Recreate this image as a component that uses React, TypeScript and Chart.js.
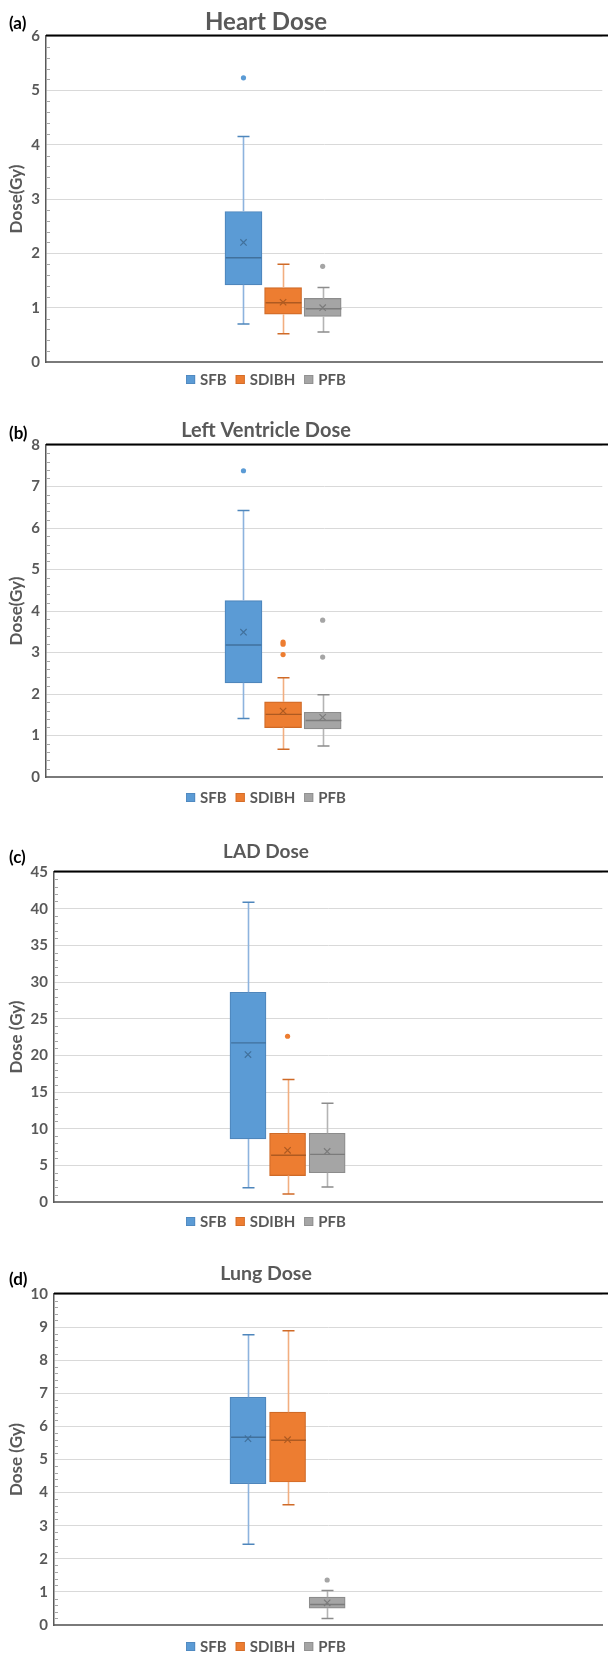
import React, { useEffect, useRef } from 'react';
import { Chart, registerables } from 'chart.js';

Chart.register(...registerables);

// ---------- data ----------
const seriesNames = ['SFB', 'SDIBH', 'PFB'];

const heartLow = [0.7, 0.52, 0.55];
const heartQ1 = [1.42, 0.88, 0.84];
const heartMedian = [1.92, 1.09, 0.98];
const heartQ3 = [2.77, 1.37, 1.17];
const heartHigh = [4.15, 1.8, 1.37];
const heartMean = [2.2, 1.1, 1.0];
const heartOutliers = [[5.23], [], [1.76]];

const lvLow = [1.41, 0.67, 0.75];
const lvQ1 = [2.27, 1.19, 1.16];
const lvMedian = [3.18, 1.51, 1.36];
const lvQ3 = [4.25, 1.81, 1.56];
const lvHigh = [6.42, 2.39, 1.98];
const lvMean = [3.49, 1.59, 1.44];
const lvOutliers = [[7.38], [3.25, 3.2, 2.95], [3.78, 2.89]];

const ladLow = [1.95, 1.1, 2.05];
const ladQ1 = [8.6, 3.6, 4.0];
const ladMedian = [21.7, 6.37, 6.5];
const ladQ3 = [28.6, 9.37, 9.37];
const ladHigh = [40.87, 16.7, 13.46];
const ladMean = [20.1, 7.05, 6.9];
const ladOutliers = [[], [22.6], []];

const lungLow = [2.44, 3.63, 0.2];
const lungQ1 = [4.27, 4.32, 0.51];
const lungMedian = [5.67, 5.58, 0.62];
const lungQ3 = [6.88, 6.43, 0.84];
const lungHigh = [8.77, 8.89, 1.04];
const lungMean = [5.63, 5.6, 0.67];
const lungOutliers = [[], [], [1.36]];

// ---------- styles ----------
const FONT = 'Lato, "Open Sans", "DejaVu Sans", sans-serif';
const TEXT_GRAY = '#595959';
const fills = ['#5B9BD5', '#ED7D31', '#A5A5A5'];
const borders = ['#4E86BC', '#CF6A27', '#8C8C8C'];
const darks = ['#41719C', '#AE5A21', '#7B7B7B'];
const whiskers = ['#8DB3DE', '#F2AE80', '#B4B4B4'];

type PanelCfg = {
  top: number;
  height: number;
  padTop: number;
  padBottom: number;
  axisWidth: number;
  xMin: number;
  xMax: number;
  boxWidth: number;
  yMax: number;
  step: number;
  yTitle: string;
  title: string;
  titleSize: number;
  titleBase: number;
  label: string;
  labelBase: number;
  legendBase: number;
  low: number[];
  q1: number[];
  median: number[];
  q3: number[];
  high: number[];
  mean: number[];
  outliers: number[][];
};

const panels: PanelCfg[] = [
  {
    top: 0, height: 392, padTop: 36, padBottom: 30, axisWidth: 46,
    xMin: -3.9875, xMax: 10.0625, boxWidth: 37, yMax: 6, step: 1,
    yTitle: 'Dose(Gy)', title: 'Heart Dose', titleSize: 24, titleBase: 30,
    label: '(a)', labelBase: 29, legendBase: 385,
    low: heartLow, q1: heartQ1, median: heartMedian, q3: heartQ3, high: heartHigh,
    mean: heartMean, outliers: heartOutliers,
  },
  {
    top: 392, height: 418, padTop: 53, padBottom: 33, axisWidth: 46,
    xMin: -3.9875, xMax: 10.0625, boxWidth: 37, yMax: 8, step: 1,
    yTitle: 'Dose(Gy)', title: 'Left Ventricle Dose', titleSize: 20, titleBase: 45,
    label: '(b)', labelBase: 47, legendBase: 411,
    low: lvLow, q1: lvQ1, median: lvMedian, q3: lvQ3, high: lvHigh,
    mean: lvMean, outliers: lvOutliers,
  },
  {
    top: 810, height: 425, padTop: 62, padBottom: 33, axisWidth: 54,
    xMin: -3.9, xMax: 9.95, boxWidth: 36, yMax: 45, step: 5,
    yTitle: 'Dose (Gy)', title: 'LAD Dose', titleSize: 19, titleBase: 48,
    label: '(c)', labelBase: 53, legendBase: 417,
    low: ladLow, q1: ladQ1, median: ladMedian, q3: ladQ3, high: ladHigh,
    mean: ladMean, outliers: ladOutliers,
  },
  {
    top: 1235, height: 418, padTop: 59, padBottom: 28, axisWidth: 54,
    xMin: -3.9, xMax: 9.95, boxWidth: 36, yMax: 10, step: 1,
    yTitle: 'Dose (Gy)', title: 'Lung Dose', titleSize: 19.5, titleBase: 45,
    label: '(d)', labelBase: 50, legendBase: 417,
    low: lungLow, q1: lungQ1, median: lungMedian, q3: lungQ3, high: lungHigh,
    mean: lungMean, outliers: lungOutliers,
  },
];

function BoxPanel({ p }: { p: PanelCfg }) {
  const ref = useRef<HTMLCanvasElement>(null);

  useEffect(() => {
    const canvas = ref.current;
    if (!canvas) return;

    const datasets: any[] = [];
    seriesNames.forEach((name, i) => {
      datasets.push({
        type: 'bar',
        label: name,
        order: 2,
        data: [{ x: i + 1, y: [p.q1[i], p.q3[i]] }],
        backgroundColor: fills[i],
        borderColor: borders[i],
        borderWidth: 1.2,
        borderSkipped: false,
        barThickness: p.boxWidth,
        grouped: false,
      });
    });
    seriesNames.forEach((name, i) => {
      datasets.push({
        type: 'scatter',
        label: name + ' mean',
        order: 1,
        data: [{ x: i + 1, y: p.mean[i] }],
        pointStyle: 'crossRot',
        pointRadius: 4.5,
        pointHoverRadius: 4.5,
        borderColor: darks[i],
        borderWidth: 1.2,
        backgroundColor: 'rgba(0,0,0,0)',
      });
      if (p.outliers[i].length) {
        datasets.push({
          type: 'scatter',
          label: name + ' outliers',
          order: 1,
          data: p.outliers[i].map((v) => ({ x: i + 1, y: v })),
          pointStyle: 'circle',
          pointRadius: 2.6,
          pointHoverRadius: 2.6,
          backgroundColor: fills[i],
          borderWidth: 0,
        });
      }
    });

    const boxPlugin = {
      id: 'boxExtras',
      afterDatasetsDraw(chart: any) {
        const ctx = chart.ctx;
        const xs = chart.scales.x;
        const ys = chart.scales.y;
        ctx.save();
        seriesNames.forEach((_, i) => {
          const cx = Math.round(xs.getPixelForValue(i + 1)) + 0.5;
          const half = p.boxWidth / 2 - 0.6;
          const yq1 = ys.getPixelForValue(p.q1[i]);
          const yq3 = ys.getPixelForValue(p.q3[i]);
          const yLo = ys.getPixelForValue(p.low[i]);
          const yHi = ys.getPixelForValue(p.high[i]);
          const yMed = ys.getPixelForValue(p.median[i]);
          // whisker stems
          ctx.strokeStyle = whiskers[i];
          ctx.lineWidth = 1.6;
          ctx.beginPath();
          ctx.moveTo(cx, yq3);
          ctx.lineTo(cx, yHi);
          ctx.moveTo(cx, yq1);
          ctx.lineTo(cx, yLo);
          ctx.stroke();
          // caps
          ctx.strokeStyle = borders[i];
          ctx.lineWidth = 1.5;
          ctx.beginPath();
          ctx.moveTo(cx - 6, yHi);
          ctx.lineTo(cx + 6, yHi);
          ctx.moveTo(cx - 6, yLo);
          ctx.lineTo(cx + 6, yLo);
          ctx.stroke();
          // median
          ctx.strokeStyle = darks[i];
          ctx.lineWidth = 1.4;
          ctx.beginPath();
          ctx.moveTo(cx - half, yMed);
          ctx.lineTo(cx + half, yMed);
          ctx.stroke();
        });
        ctx.restore();
      },
      afterDraw(chart: any) {
        const ctx = chart.ctx;
        const area = chart.chartArea;
        const ys = chart.scales.y;
        ctx.save();
        // top frame line
        ctx.strokeStyle = '#000000';
        ctx.lineWidth = 2;
        ctx.beginPath();
        ctx.moveTo(area.left, area.top - 0.5);
        ctx.lineTo(chart.width, area.top - 0.5);
        ctx.stroke();
        // minor ticks on the value axis
        const minor = p.step / 5;
        ctx.strokeStyle = '#A6A6A6';
        ctx.lineWidth = 1;
        ctx.beginPath();
        for (let k = 1; k * minor < p.yMax - 1e-9; k++) {
          if (k % 5 === 0) continue;
          const y = Math.round(ys.getPixelForValue(k * minor)) + 0.5;
          ctx.moveTo(area.left + 1, y);
          ctx.lineTo(area.left + 4, y);
        }
        ctx.stroke();

        // chart title
        ctx.fillStyle = TEXT_GRAY;
        ctx.textAlign = 'center';
        ctx.textBaseline = 'alphabetic';
        ctx.font = `bold ${p.titleSize}px ${FONT}`;
        ctx.fillText(p.title, 266, p.titleBase);

        // panel label
        ctx.fillStyle = '#000000';
        ctx.textAlign = 'left';
        ctx.font = `bold 17px ${FONT}`;
        ctx.fillText(p.label, 9, p.labelBase);

        // legend
        ctx.font = `bold 15px ${FONT}`;
        const sq = 9;
        const gapIn = 5;
        const gapOut = 9;
        const widths = seriesNames.map((n) => ctx.measureText(n).width);
        const total =
          widths.reduce((a, w) => a + sq + gapIn + w, 0) + gapOut * (seriesNames.length - 1);
        let x = 266 - total / 2;
        seriesNames.forEach((n, i) => {
          ctx.fillStyle = fills[i];
          ctx.fillRect(x, p.legendBase - 10, sq, sq);
          ctx.strokeStyle = borders[i];
          ctx.lineWidth = 0.8;
          ctx.strokeRect(x + 0.4, p.legendBase - 9.6, sq - 0.8, sq - 0.8);
          x += sq + gapIn;
          ctx.fillStyle = TEXT_GRAY;
          ctx.fillText(n, x, p.legendBase);
          x += widths[i] + gapOut;
        });
        ctx.restore();
      },
    };

    const chart = new Chart(canvas, {
      type: 'bar',
      data: { datasets },
      options: {
        responsive: false,
        animation: false,
        events: [],
        layout: { padding: { top: p.padTop, bottom: p.padBottom, left: 0, right: 0 } },
        plugins: {
          legend: { display: false },
          title: { display: false },
          tooltip: { enabled: false },
        },
        scales: {
          x: {
            type: 'linear',
            min: p.xMin,
            max: p.xMax,
            offset: false,
            display: true,
            ticks: { display: false },
            grid: { display: false, drawTicks: false, offset: false },
            border: { display: true, color: '#7A7A7A', width: 2 },
            afterFit: (s: any) => {
              s.height = 0;
            },
          },
          y: {
            type: 'linear',
            min: 0,
            max: p.yMax,
            ticks: {
              stepSize: p.step,
              color: TEXT_GRAY,
              padding: 6,
              font: { family: FONT, size: 15, weight: 'bold' },
            },
            grid: { color: '#D9D9D9', lineWidth: 1, drawTicks: false },
            border: { display: true, color: '#595959', width: 1.5 },
            title: {
              display: true,
              text: p.yTitle,
              color: TEXT_GRAY,
              font: { family: FONT, size: 17, weight: 'bold' },
              padding: { top: 6, bottom: 0 },
            },
            afterFit: (s: any) => {
              s.width = p.axisWidth;
            },
          },
        },
      } as any,
      plugins: [boxPlugin],
    });

    return () => {
      chart.destroy();
    };
  }, [p]);

  return (
    <div style={{ position: 'absolute', left: 0, top: p.top, width: 608, height: p.height }}>
      <canvas ref={ref} width={608} height={p.height} style={{ display: 'block' }} />
    </div>
  );
}

export default function App() {
  return (
    <div
      style={{
        position: 'absolute',
        left: 0,
        top: 0,
        width: 608,
        height: 1653,
        background: '#ffffff',
        overflow: 'hidden',
      }}
    >
      {panels.map((p) => (
        <BoxPanel key={p.label} p={p} />
      ))}
    </div>
  );
}
